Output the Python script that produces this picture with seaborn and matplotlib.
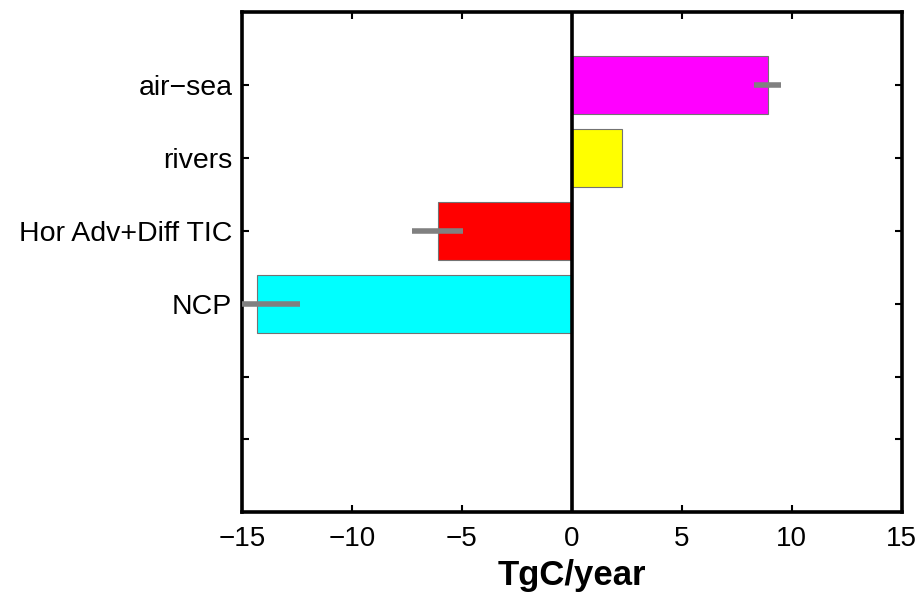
import matplotlib
matplotlib.use("Agg")
import matplotlib.pyplot as plt
import seaborn as sns
import pandas as pd

# Carbon budget terms (TgC/year)
terms = ["air\u2212sea", "rivers", "Hor Adv+Diff TIC", "NCP"]
flux = [8.9, 2.3, -6.1, -14.3]
flux_err = [0.6, 0.0, 1.15, 1.95]
bar_colors = ["#ff00ff", "#ffff00", "#ff0000", "#00ffff"]

# y tick rows (last two are unlabeled)
tick_rows = [0, 1, 2, 3, 4, 4.85]
tick_labels = terms + ["", ""]
x_ticks = [-15, -10, -5, 0, 5, 10, 15]

df = pd.DataFrame({"term": terms, "flux": flux})

sns.set_style("white")
plt.rcParams["font.family"] = ["Liberation Sans", "DejaVu Sans"]

fig = plt.figure(figsize=(9.22, 5.99), dpi=100)
ax = fig.add_axes([0.2625, 0.145, 0.7155, 0.835])

sns.barplot(data=df, y="term", x="flux", hue="term", palette=bar_colors,
            orient="h", width=0.8, saturation=1, edgecolor="0.45",
            linewidth=0.8, legend=False, ax=ax)

# grey error bars at the bar ends
ax.errorbar(flux, range(len(terms)), xerr=flux_err, fmt="none",
            ecolor="0.5", elinewidth=4, capsize=0, zorder=3)

ax.axvline(0, color="k", lw=2.6, zorder=4)

ax.set_xlim(-15, 15)
ax.set_ylim(5.85, -1)
ax.set_xticks(x_ticks)
ax.set_xticklabels([str(t).replace("-", "\u2212") for t in x_ticks], fontsize=20)
ax.set_yticks(tick_rows)
ax.set_yticklabels(tick_labels, fontsize=20.5)
ax.set_ylabel("")
ax.set_xlabel("TgC/year", fontsize=25, fontweight="bold", labelpad=5, color="k")

ax.tick_params(direction="in", left=True, bottom=True, top=True, right=True,
               length=5, width=1.5, colors="k")
ax.tick_params(axis="y", pad=7)
ax.tick_params(axis="x", pad=10)
for s in ax.spines.values():
    s.set_color("k")
    s.set_linewidth(2.6)

plt.savefig("out.png", dpi=100)
